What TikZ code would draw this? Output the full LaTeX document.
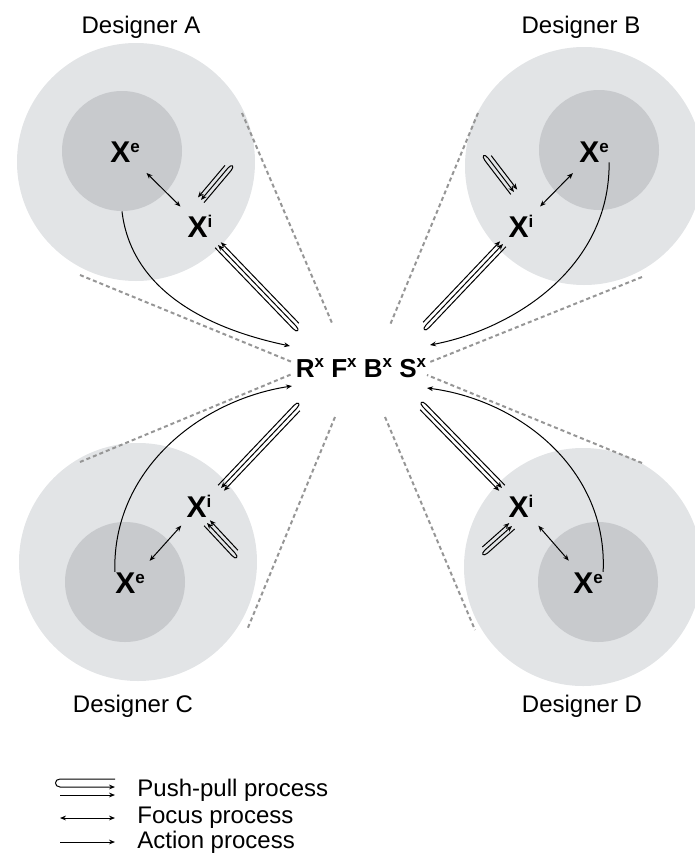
\documentclass[tikz,border=0pt]{standalone}
\usepackage{fontspec}
\setmainfont{Liberation Sans}
\usetikzlibrary{calc,arrows.meta}

\definecolor{ringout}{RGB}{226,228,230}
\definecolor{ringin}{RGB}{200,202,205}
\definecolor{guidegray}{RGB}{150,150,150}

% 上标
\newcommand{\withsup}[2]{#1{\fontsize{8.5}{9}\selectfont\raisebox{5pt}{#2}}}
% 推拉符号: #1 远端, #2 箭头端, #3 偏移方向 (90 或 -90)
\newcommand{\ppgap}{2pt}
\newcommand{\pushpull}[3]{%
	\coordinate (ppa) at ($(#1)!\ppgap!#3:(#2)$);
	\coordinate (ppb) at ($(#2)+(ppa)-(#1)$);
	\coordinate (ppc) at ($2*(#1)-(ppa)$);
	\coordinate (ppd) at ($2*(#2)-(ppb)$);
	\draw[flow] (ppb) -- (ppa) .. controls ($(ppa)!-3pt!(ppb)$) and ($(#1)!-3pt!(#2)$) .. (#1) -- (#2);
	\draw[flow] (ppc) -- (ppd);
}

\begin{document}
\begin{tikzpicture}[x=0.5pt,y=-0.5pt,
	outerdisc/.style={circle,fill=ringout,minimum size=119pt,inner sep=0pt},
	innerdisc/.style={circle,fill=ringin,minimum size=60pt,inner sep=0pt},
	xlab/.style={font=\fontsize{15}{17}\selectfont\bfseries,inner sep=0pt,anchor=base},
	lab/.style={font=\fontsize{12}{14}\selectfont,inner sep=0pt},
	flow/.style={line width=0.5pt,-{Stealth[length=3pt,width=2.4pt]}},
	focus/.style={line width=0.5pt,{Stealth[length=3pt,width=2.4pt]}-{Stealth[length=3pt,width=2.4pt]}},
	cone/.style={draw=guidegray,line width=1pt,dash pattern=on 2pt off 1.5pt}]
	\useasboundingbox (0,0) rectangle (695,857);
	
	% 四个设计者的圆
	\node[outerdisc] (oA) at (136,162) {};
	\node[outerdisc] (oB) at (584,166) {};
	\node[outerdisc] (oC) at (138,562) {};
	\node[outerdisc] (oD) at (583,567) {};
	\node[innerdisc] (iA) at (122,151) {};
	\node[innerdisc] (iB) at (599,150) {};
	\node[innerdisc] (iC) at (125,582) {};
	\node[innerdisc] (iD) at (598,582) {};
	
	% 虚线
	\draw[cone] (242,113) -- (332,323);
	\draw[cone] (80,275) -- (292,362);
	\draw[cone] (478,113) -- (390,325);
	\draw[cone] (642,277) -- (430,362);
	\draw[cone] (80,462) -- (292,374);
	\draw[cone] (335,417) -- (247,630);
	\draw[cone] (385,417) -- (475,630);
	\draw[cone] (642,463) -- (427,375);
	
	% 标签
	\node[lab,anchor=base] (labA) at (141,33) {Designer A};
	\node[lab,anchor=base] (labB) at (581,33) {Designer B};
	\node[lab,anchor=base] (labC) at (133,712) {Designer C};
	\node[lab,anchor=base] (labD) at (582,712) {Designer D};
	
	\node[xlab] (xeA) at (125,162) {\withsup{X}{e}};
	\node[xlab] (xiA) at (200,237) {\withsup{X}{i}};
	\node[xlab] (xeB) at (594,162) {\withsup{X}{e}};
	\node[xlab] (xiB) at (521,237) {\withsup{X}{i}};
	\node[xlab] (xeC) at (130,593) {\withsup{X}{e}};
	\node[xlab] (xiC) at (199,517) {\withsup{X}{i}};
	\node[xlab] (xeD) at (588,593) {\withsup{X}{e}};
	\node[xlab] (xiD) at (521,517) {\withsup{X}{i}};
	
	\node[anchor=base,inner sep=0pt,font=\fontsize{13}{15}\selectfont\bfseries] (rfbs) at (361,377)
		{\withsup{R}{x} \withsup{F}{x} \withsup{B}{x} \withsup{S}{x}};
	
	% focus
	\foreach \d in {A,B,C,D}
		\draw[focus,shorten <=7.5pt,shorten >=5.5pt] (xe\d) -- (xi\d);
	
	% action
	\coordinate (acA) at (290,346);
	\coordinate (acB) at (430,345);
	\coordinate (acC) at (292,386);
	\coordinate (acD) at (427,388);
	\draw[flow] (iA.south) .. controls (130,280) and (190,325) .. (acA);
	\draw[flow] (xeB.south east) .. controls (610,270) and (510,330) .. (acB);
	\draw[flow] (xeC.north west) .. controls (112,470) and (200,400) .. (acC);
	\draw[flow] (xeD.north east) .. controls (608,470) and (520,400) .. (acD);
	
	% push-pull
	\coordinate (pfA) at (228,168); \coordinate (ptA) at (201,200);
	\coordinate (pfB) at (488,158); \coordinate (ptB) at (514,192);
	\coordinate (pfC) at (235,553); \coordinate (ptC) at (207,523);
	\coordinate (pfD) at (485,550); \coordinate (ptD) at (512,526);
	\pushpull{pfA}{ptA}{90}
	\pushpull{pfB}{ptB}{-90}
	\pushpull{pfC}{ptC}{90}
	\pushpull{pfD}{ptD}{-90}
	\coordinate (qfA) at (296,326); \coordinate (qtA) at (218,245);
	\coordinate (qfB) at (426,325); \coordinate (qtB) at (503,244);
	\coordinate (qfC) at (297,408); \coordinate (qtC) at (221,488);
	\coordinate (qfD) at (423,407); \coordinate (qtD) at (502,488);
	\pushpull{qfA}{qtA}{90}
	\pushpull{qfB}{qtB}{-90}
	\pushpull{qfC}{qtC}{-90}
	\pushpull{qfD}{qtD}{90}
	
	% 图例
	\renewcommand{\ppgap}{4pt}
	\coordinate (lpA) at (60,787); \coordinate (lpB) at (115,787);
	\coordinate (lfA) at (60,818); \coordinate (lfB) at (115,818);
	\coordinate (laA) at (60,842); \coordinate (laB) at (115,842);
	\pushpull{lpA}{lpB}{90}
	\draw[focus] (lfA) -- (lfB);
	\draw[flow] (laA) -- (laB);
	\node[lab,anchor=base west] (lgPush) at (137,796) {Push-pull process};
	\node[lab,anchor=base west] (lgFocus) at (137,823) {Focus process};
	\node[lab,anchor=base west] (lgAction) at (137,848) {Action process};
\end{tikzpicture}
\end{document}
